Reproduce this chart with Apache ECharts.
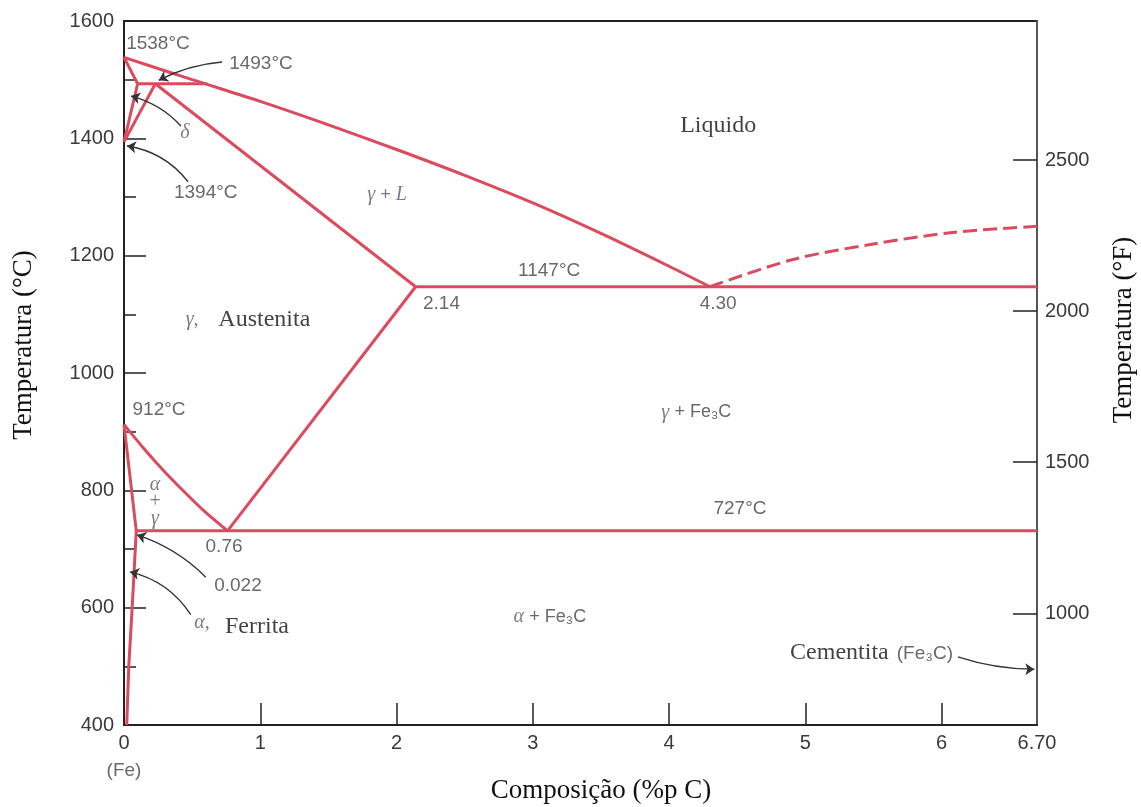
<!DOCTYPE html>
<html><head><meta charset="utf-8">
<script src="https://cdn.jsdelivr.net/npm/echarts@6/dist/echarts.min.js"></script>
<style>html,body{margin:0;padding:0;background:#fff}#c{width:1141px;height:807px}</style>
</head><body><div id="c"></div>
<script>
// ---- axes ----
const xTicks = [1, 2, 3, 4, 5, 6];
const xLabels = [0, 1, 2, 3, 4, 5, 6, 6.7];
const cRange = [400, 1600];
const fTicks = [1000, 1500, 2000, 2500];
const fRange = [630.4, 2960];

// ---- phase boundaries (wt% C, °C) ----
const liquidus = [[0,1538],[0.5,1500],[1.0,1463],[1.5,1423],[2.0,1381],[2.5,1337],[3.0,1290],[3.5,1238],[4.0,1182],[4.3,1147]];
const peritectic = [[0.1,1493],[0.61,1493]];
const deltaSolidus = [[0,1538],[0.1,1493]];
const deltaSolvus = [[0.1,1493],[0,1394]];
const gammaDelta = [[0,1394],[0.23,1493]];
const gammaSolidus = [[0.23,1493],[2.14,1147]];
const eutectic = [[2.14,1147],[6.7,1147]];
const a3Line = [[0,912],[0.147,871],[0.293,833],[0.44,798],[0.587,765],[0.76,731]];
const acmLine = [[0.76,731],[2.14,1147]];
const alphaGamma = [[0,912],[0.09,731]];
const alphaSolvus = [[0.09,731],[0.06,600],[0.035,500],[0.02,400]];
const eutectoid = [[0.09,731],[6.7,731]];
const cementiteLiquidus = [[4.3,1147],[4.9,1193],[5.5,1220],[6.1,1240],[6.7,1250]];

// ---- annotations ----
const numberLabels = [
  [0.249,1562,'1538°C'],[1.005,1527,'1493°C'],[0.60,1308,'1394°C'],
  [3.12,1174,'1147°C'],[2.33,1118,'2.14'],[4.36,1118,'4.30'],
  [0.257,937,'912°C'],[0.734,703,'0.76'],[4.52,768,'727°C'],
  [0.836,637,'0.022'],[5.877,521,'(Fe₃C)'],[0,322,'(Fe)']
];
const phaseLabels = [
  [4.36,1421,'Liquido'],[1.03,1090,'Austenita'],[0.976,567,'Ferrita'],[5.25,524,'Cementita']
];
const greekLabels = [
  [0.447,1409,'δ'],[1.93,1303,'{g|γ} {p|+} {g|L}'],[0.50,1090,'γ,'],[0.572,574,'α,'],
  [0.227,780,'α\n+\nγ']
];
const mixedLabels = [
  [4.20,933,'{g|γ} {p|+ Fe₃C}'],[3.125,584,'{g|α} {p|+ Fe₃C}']
];
const arrows = [
  [[0.719,1530],[0.255,1499],-0.1],
  [[0.418,1421],[0.051,1472],-0.15],
  [[0.47,1326],[0.022,1387],-0.2],
  [[0.60,652],[0.095,724],-0.12],
  [[0.49,588],[0.044,661],-0.2],
  [[6.12,516],[6.68,495],-0.08]
];

const RED = '#dc4a5e';
const SANS = '"Liberation Sans", Arial, sans-serif';
const SERIF = '"Liberation Serif", "Times New Roman", serif';

function boundary(data, opts) {
  return Object.assign({
    type: 'line', data: data, showSymbol: false, symbol: 'none', clip: false, silent: true,
    lineStyle: { color: RED, width: 3 }, z: 3
  }, opts || {});
}
function labelSeries(list, labelStyle) {
  return {
    type: 'scatter', symbolSize: 0, clip: false, silent: true, z: 5,
    data: list.map(d => ({ value: [d[0], d[1]], name: d[2] })),
    label: Object.assign({ show: true, position: 'inside', formatter: '{b}', align: 'center', verticalAlign: 'middle' }, labelStyle)
  };
}
const plain = v => String(v);

const chart = echarts.init(document.getElementById('c'));
chart.setOption({
  animation: false,
  backgroundColor: '#fff',
  grid: { left: 124, top: 21, right: 104, bottom: 82, show: true, borderColor: '#222', borderWidth: 2 },
  xAxis: {
    type: 'value', min: 0, max: 6.7,
    axisLine: { lineStyle: { color: '#222', width: 2 } },
    axisTick: { inside: true, length: 22, customValues: xTicks, lineStyle: { color: '#222', width: 1.5 } },
    axisLabel: { customValues: xLabels, margin: 8, fontSize: 20, fontFamily: SANS, color: '#3a3a3a',
      formatter: v => Math.abs(v - 6.7) < 1e-6 ? '6.70' : String(v) },
    splitLine: { show: false }
  },
  yAxis: [{
    type: 'value', min: cRange[0], max: cRange[1], interval: 200,
    axisLine: { show: true, lineStyle: { color: '#222', width: 2 } },
    axisTick: { inside: true, length: 22, lineStyle: { color: '#222', width: 1.5 } },
    minorTick: { show: true, splitNumber: 2, length: 12, lineStyle: { color: '#222', width: 1.5 } },
    axisLabel: { margin: 10, fontSize: 20, fontFamily: SANS, color: '#3a3a3a', formatter: plain },
    splitLine: { show: false }
  }, {
    type: 'value', position: 'right', min: fRange[0], max: fRange[1],
    axisLine: { show: true, lineStyle: { color: '#555', width: 2 } },
    axisTick: { show: true, inside: true, length: 24, customValues: fTicks, lineStyle: { color: '#222', width: 1.5 } },
    axisLabel: { customValues: fTicks, margin: 8, fontSize: 20, fontFamily: SANS, color: '#3a3a3a', formatter: plain },
    splitLine: { show: false }
  }],
  graphic: [
    { type: 'text', x: 24, y: 345, rotation: Math.PI / 2,
      style: { text: 'Temperatura (°C)', font: '27px ' + SERIF, fill: '#111', align: 'center', verticalAlign: 'middle' } },
    { type: 'text', x: 601, y: 791,
      style: { text: 'Composição (%p C)', font: '27px ' + SERIF, fill: '#111', align: 'center', verticalAlign: 'middle' } },
    { type: 'text', x: 1124, y: 330, rotation: Math.PI / 2,
      style: { text: 'Temperatura (°F)', font: '27px ' + SERIF, fill: '#111', align: 'center', verticalAlign: 'middle' } }
  ],
  series: [
    boundary(liquidus, { smooth: 0.3 }),
    boundary(peritectic),
    boundary(deltaSolidus),
    boundary(deltaSolvus),
    boundary(gammaDelta),
    boundary(gammaSolidus),
    boundary(eutectic),
    boundary(a3Line, { smooth: 0.3 }),
    boundary(acmLine),
    boundary(alphaGamma),
    boundary(alphaSolvus),
    boundary(eutectoid),
    boundary(cementiteLiquidus, { smooth: 0.3, lineStyle: { color: RED, width: 3, type: [14, 6] } }),
    {
      type: 'lines', coordinateSystem: 'cartesian2d', silent: true, z: 6,
      symbol: ['none', 'arrow'], symbolSize: 9,
      data: arrows.map(a => ({ coords: [a[0], a[1]], lineStyle: { curveness: a[2] } })),
      lineStyle: { color: '#333', width: 1.4, opacity: 1 }
    },
    labelSeries(numberLabels, { fontSize: 19, fontFamily: SANS, color: '#444' }),
    labelSeries(phaseLabels, { fontSize: 24, fontFamily: SERIF, color: '#111' }),
    labelSeries(greekLabels, { fontSize: 20, fontFamily: SERIF, fontStyle: 'italic', color: '#555a70', lineHeight: 17,
      rich: { g: { fontSize: 20, fontFamily: SERIF, fontStyle: 'italic', color: '#555a70' },
              p: { fontSize: 18, fontFamily: SANS, color: '#555a70' } } }),
    labelSeries(mixedLabels, { fontSize: 19, fontFamily: SANS, color: '#444',
      rich: { g: { fontSize: 20, fontFamily: SERIF, fontStyle: 'italic', color: '#555a70' },
              p: { fontSize: 18, fontFamily: SANS, color: '#444' } } })
  ]
});
</script></body></html>
